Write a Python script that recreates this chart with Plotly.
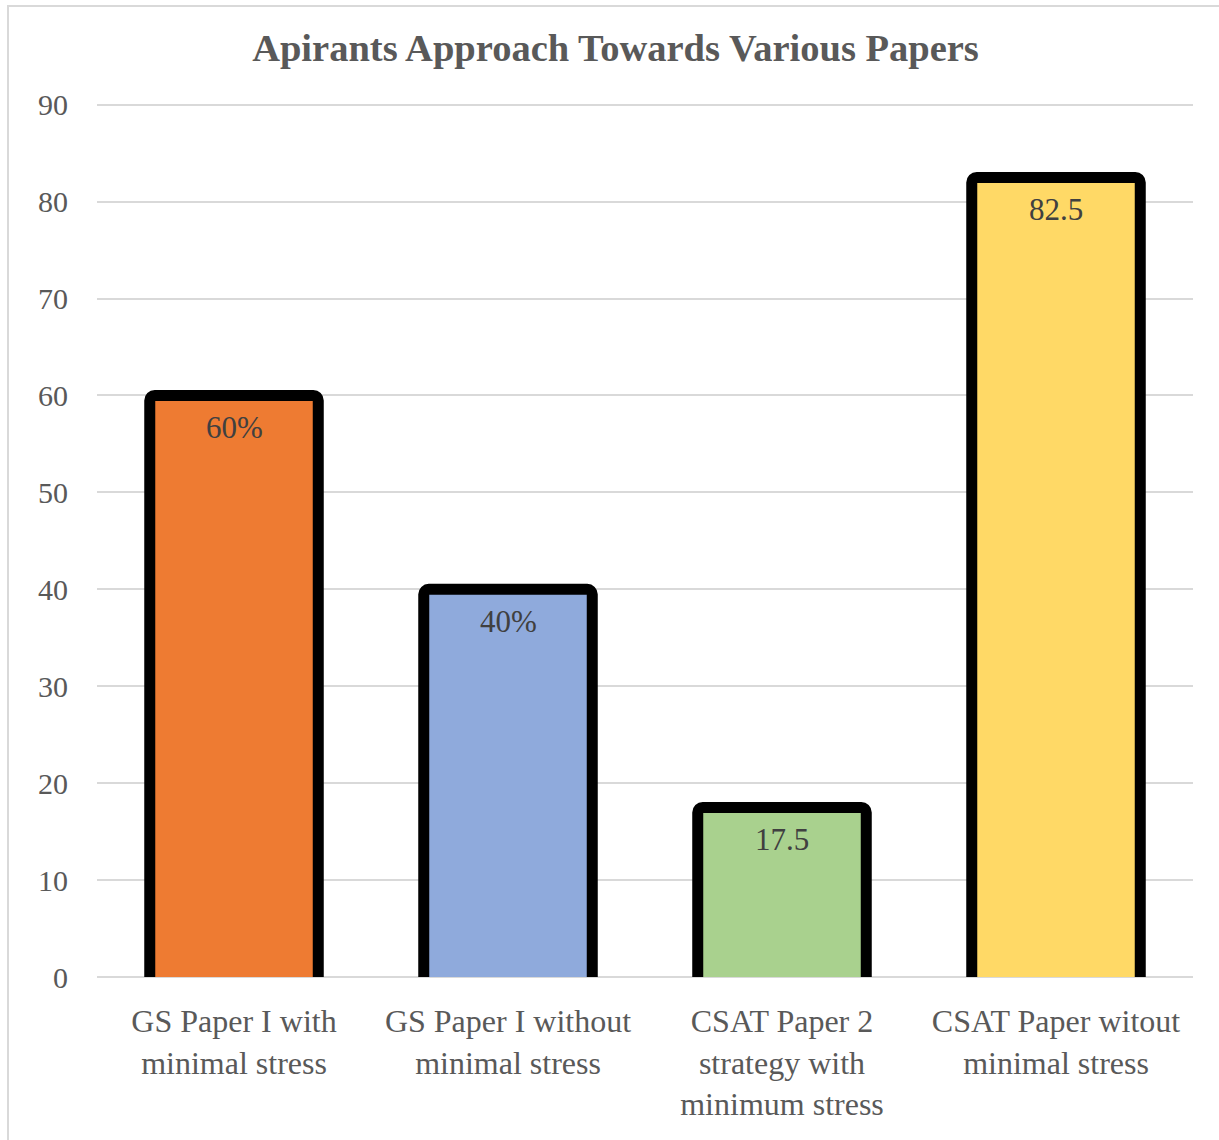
import plotly.graph_objects as go

categories = ["GS Paper I with<br>minimal stress",
              "GS Paper I without<br>minimal stress",
              "CSAT Paper 2<br>strategy with<br>minimum stress",
              "CSAT Paper witout<br>minimal stress"]
values = [60, 40, 17.5, 82.5]
value_labels = ["60%", "40%", "17.5", "82.5"]
bar_colors = ["#EE7B32", "#8FAADC", "#A9D18E", "#FFD966"]
y_ticks = [0, 10, 20, 30, 40, 50, 60, 70, 80, 90]

FONT = "Liberation Serif, Times New Roman, serif"

# bars start slightly below the visible axis so the bottom border is clipped away
HIDDEN_BASE = -2.0

fig = go.Figure()
fig.add_trace(go.Bar(
    x=categories,
    y=[v - HIDDEN_BASE for v in values],
    base=HIDDEN_BASE,
    marker=dict(color=bar_colors, line=dict(color="#000000", width=11), cornerradius=5),
    width=0.615,
    hoverinfo="skip",
))

for cat, val, lab in zip(categories, values, value_labels):
    fig.add_annotation(x=cat, y=val, text=lab, showarrow=False,
                       xanchor="center", yanchor="middle", yshift=-32,
                       font=dict(family=FONT, size=31, color="#404040"))

fig.update_layout(
    width=1219, height=1140,
    margin=dict(l=97, r=26, t=95, b=163),
    paper_bgcolor="white",
    plot_bgcolor="white",
    showlegend=False,
    title=dict(text="<b>Apirants Approach Towards Various Papers</b>",
               x=615.5 / 1219, xanchor="center", y=1 - 48 / 1140, yanchor="middle",
               font=dict(family=FONT, size=38.5, color="#595959")),
    font=dict(family=FONT, color="#595959"),
)

fig.update_yaxes(
    range=[0, 91], tickvals=y_ticks, ticktext=[str(v) for v in y_ticks],
    showgrid=True, gridcolor="#D9D9D9", gridwidth=1.5,
    zeroline=True, zerolinecolor="#D9D9D9", zerolinewidth=2,
    showline=False, ticks="", ticklabelstandoff=28,
    tickfont=dict(family=FONT, size=30, color="#595959"),
    fixedrange=True,
)
fig.update_xaxes(
    showgrid=False, showline=False, ticks="", ticklabelstandoff=22,
    tickfont=dict(family=FONT, size=32, color="#595959"),
    tickangle=0,
    fixedrange=True,
)

# outer chart frame
fig.add_shape(type="rect", xref="paper", yref="paper",
              x0=(8 - 97) / 1096, x1=1.2, y0=-0.4, y1=(977 - 6) / 882,
              line=dict(color="#D9D9D9", width=2), fillcolor="rgba(0,0,0,0)",
              layer="below")

fig.write_html("out.html")
